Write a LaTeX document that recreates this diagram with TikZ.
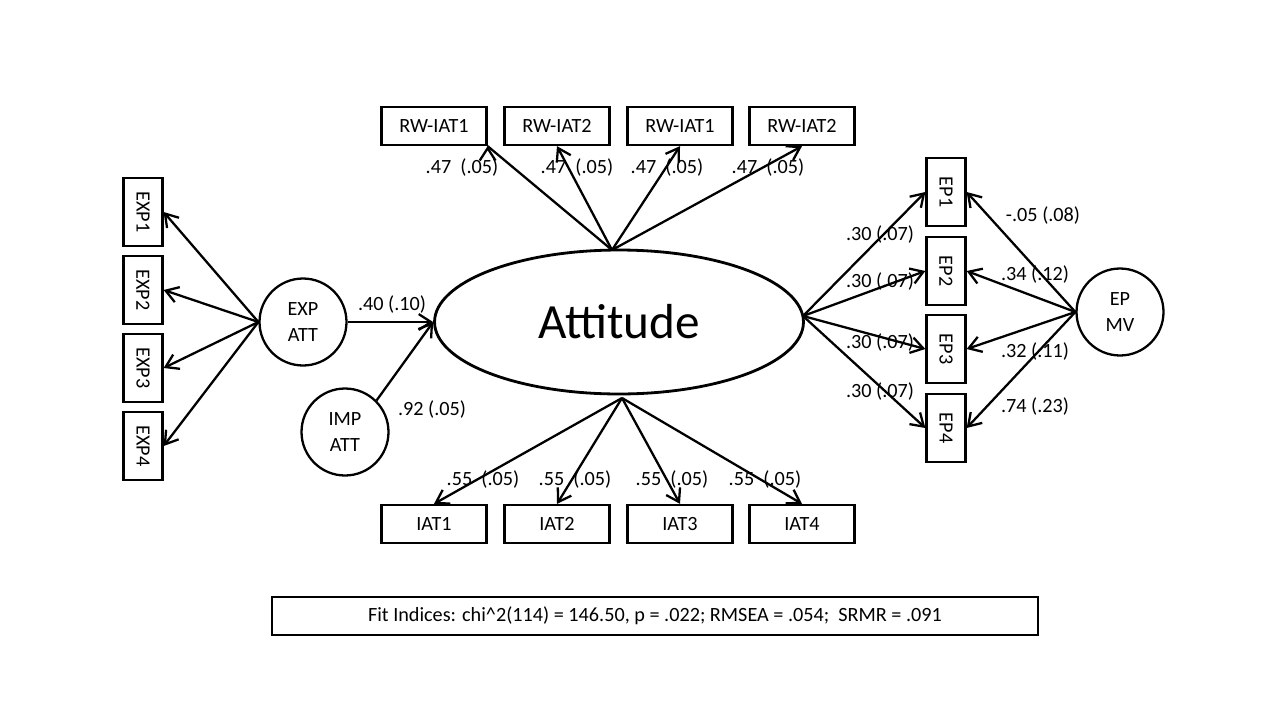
\documentclass[tikz,border=0pt]{standalone}
\usepackage{fontspec}
\setmainfont{Carlito}
\usetikzlibrary{arrows.meta,shapes.geometric}
\begin{document}
\begin{tikzpicture}[x=0.02cm,y=-0.02cm,
  every node/.style={font=\fontsize{11.5}{13}\selectfont},
  box/.style={draw,line width=1.3pt,minimum width=2.1cm,minimum height=0.76cm,inner sep=0pt},
  vbox/.style={box,rotate=-90,minimum width=1.36cm,minimum height=0.78cm},
  lat/.style={draw,circle,line width=1.3pt,minimum size=1.74cm,align=center,inner sep=0pt,font=\fontsize{11.5}{15}\selectfont},
  arr/.style={-{Straight Barb[length=7pt,width=9pt]},line width=1.3pt},
  lab/.style={inner sep=1pt}]
\useasboundingbox (0,0) rectangle (1280,720);
\node[draw,ellipse,line width=1.6pt,minimum width=7.38cm,minimum height=2.88cm,font=\fontsize{28}{30}\selectfont] (ell) at (619,322) {Attitude};
% top boxes
\node[box] (r1) at (434,126) {RW-IAT1};
\node[box] (r2) at (557,126) {RW-IAT2};
\node[box] (r3) at (680,126) {RW-IAT1};
\node[box] (r4) at (802,126) {RW-IAT2};
% bottom boxes
\node[box] (i1) at (434,524) {IAT1};
\node[box] (i2) at (557,524) {IAT2};
\node[box] (i3) at (680,524) {IAT3};
\node[box] (i4) at (802,524) {IAT4};
% left boxes
\node[vbox] (x1) at (143,212) {EXP1};
\node[vbox] (x2) at (143,290) {EXP2};
\node[vbox] (x3) at (143,368) {EXP3};
\node[vbox] (x4) at (143,446) {EXP4};
% right boxes
\node[vbox] (p1) at (946,192) {EP1};
\node[vbox] (p2) at (946,271) {EP2};
\node[vbox] (p3) at (946,349) {EP3};
\node[vbox] (p4) at (946,428) {EP4};
% latents
\node[lat] (exp) at (303,322) {EXP\\ATT};
\node[lat] (imp) at (345,432) {IMP\\ATT};
\node[lat] (epmv) at (1120,312) {EP\\MV};
% arrows
\coordinate (top) at (612,250);
\coordinate (bot) at (622,398);
\coordinate (rt) at (803,316);
\draw[arr] (top) -- (r1.south east) ++(0,0);
\draw[arr] (top) -- (r2.south);
\draw[arr] (top) -- (r3.south);
\draw[arr] (top) -- (r4.south);
\draw[arr] (bot) -- (i1.north);
\draw[arr] (bot) -- (i2.north);
\draw[arr] (bot) -- (i3.north);
\draw[arr] (bot) -- (i4.north);
\foreach \n in {x1,x2,x3,x4} \draw[arr] (exp.west) -- (\n.north);
\foreach \n in {p1,p2,p3,p4} \draw[arr] (rt) -- (\n.south);
\foreach \n in {p1,p2,p3,p4} \draw[arr] (epmv.west) -- (\n.north);
\draw[arr] (exp.east) -- (ell.west);
\draw[arr] (imp.north east) -- (ell.west);
% labels
\node[lab] (l1) at (462,168) {.47~~(.05)};
\node[lab] (l2) at (577,168) {.47~~(.05)};
\node[lab] (l3) at (667,168) {.47~~(.05)};
\node[lab] (l4) at (768,168) {.47~~(.05)};
\node[lab] (b1) at (483,480) {.55~~(.05)};
\node[lab] (b2) at (575,480) {.55~~(.05)};
\node[lab] (b3) at (672,480) {.55~~(.05)};
\node[lab] (b4) at (765,480) {.55~~(.05)};
\node[lab] (e1) at (392,305) {.40 (.10)};
\node[lab] (e2) at (432,410) {.92 (.05)};
\node[lab] (q1) at (880,235) {.30 (.07)};
\node[lab] (q2) at (880,282) {.30 (.07)};
\node[lab] (q3) at (880,343) {.30 (.07)};
\node[lab] (q4) at (880,392) {.30 (.07)};
\node[lab] (m1) at (1043,216) {-.05 (.08)};
\node[lab] (m2) at (1035,275) {.34 (.12)};
\node[lab] (m3) at (1035,352) {.32 (.11)};
\node[lab] (m4) at (1035,407) {.74 (.23)};
\node[draw,line width=1.3pt,minimum width=15.32cm,minimum height=0.76cm] (fit) at (655,616) {Fit Indices: chi\^{}2(114) = 146.50, p = .022; RMSEA = .054;~~SRMR = .091};
\end{tikzpicture}
\end{document}
